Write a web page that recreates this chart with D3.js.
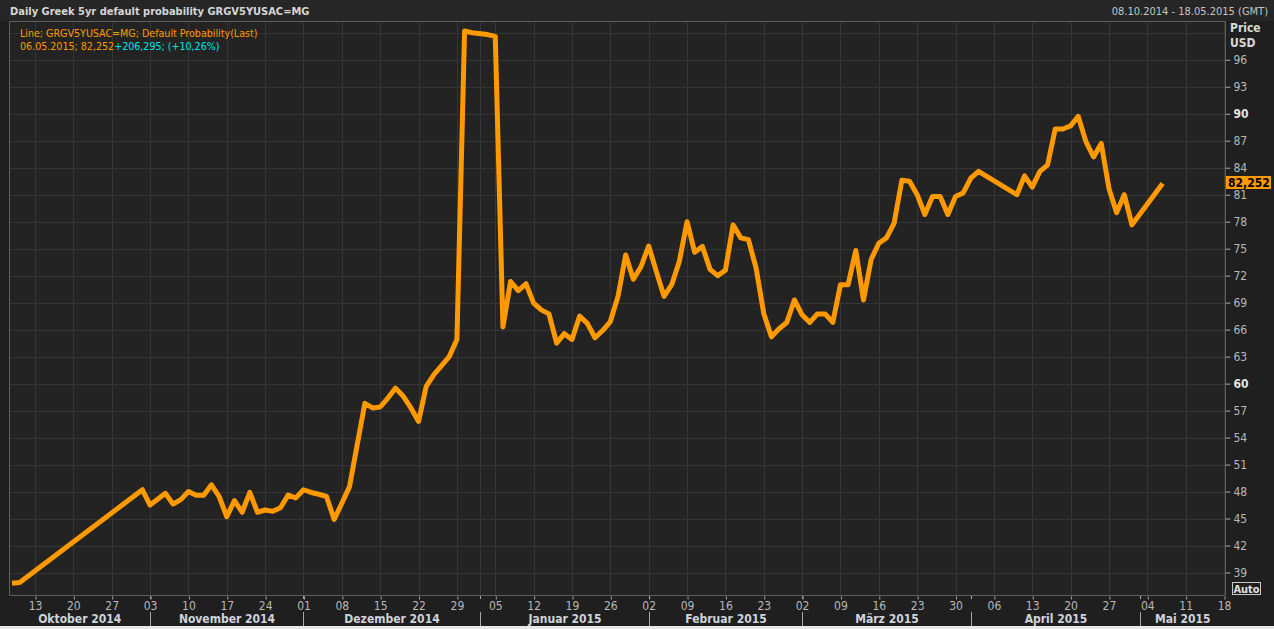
<!DOCTYPE html>
<html>
<head>
<meta charset="utf-8">
<script src="https://cdn.jsdelivr.net/npm/d3@7"></script>
<style>
  body { margin: 0; background: #1f1f1f; }
  svg { display: block; }
  text { font-family: "DejaVu Sans Condensed", "DejaVu Sans", sans-serif; }
</style>
</head>
<body>
<div id="chart"></div>
<script>
// Chart values
const dates = [
  "2014-10-08","2014-10-09","2014-10-31","2014-11-03","2014-11-05","2014-11-06","2014-11-07",
  "2014-11-10","2014-11-11","2014-11-12","2014-11-13","2014-11-14","2014-11-17","2014-11-18",
  "2014-11-19","2014-11-20","2014-11-21","2014-11-24","2014-11-25","2014-11-26","2014-11-27",
  "2014-11-28","2014-12-01","2014-12-02","2014-12-03","2014-12-04","2014-12-05","2014-12-08",
  "2014-12-09","2014-12-10","2014-12-11","2014-12-12","2014-12-15","2014-12-16","2014-12-17",
  "2014-12-18","2014-12-19","2014-12-22","2014-12-23","2014-12-24","2014-12-26","2014-12-29",
  "2014-12-30","2014-12-31","2015-01-02","2015-01-05","2015-01-06","2015-01-07","2015-01-08",
  "2015-01-09","2015-01-12","2015-01-13","2015-01-14","2015-01-15","2015-01-16","2015-01-19",
  "2015-01-20","2015-01-21","2015-01-22","2015-01-23","2015-01-26","2015-01-27","2015-01-28",
  "2015-01-29","2015-01-30","2015-02-02","2015-02-03","2015-02-04","2015-02-05","2015-02-06",
  "2015-02-09","2015-02-10","2015-02-11","2015-02-12","2015-02-13","2015-02-16","2015-02-17",
  "2015-02-18","2015-02-19","2015-02-20","2015-02-23","2015-02-24","2015-02-25","2015-02-26",
  "2015-02-27","2015-03-02","2015-03-03","2015-03-04","2015-03-05","2015-03-06","2015-03-09",
  "2015-03-10","2015-03-11","2015-03-12","2015-03-13","2015-03-16","2015-03-17","2015-03-18",
  "2015-03-19","2015-03-20","2015-03-23","2015-03-24","2015-03-25","2015-03-26","2015-03-27",
  "2015-03-30","2015-03-31","2015-04-01","2015-04-02","2015-04-09","2015-04-10","2015-04-13",
  "2015-04-14","2015-04-15","2015-04-16","2015-04-17","2015-04-20","2015-04-21","2015-04-22",
  "2015-04-23","2015-04-24","2015-04-27","2015-04-28","2015-04-29","2015-04-30","2015-05-06"
];
const values = [
  37.8, 37.9, 48.2, 46.5, 47.8, 46.6, 47.1,
  48.0, 47.6, 47.6, 48.75, 47.45, 45.2, 47.0,
  45.7, 47.9, 45.7, 45.95, 45.8, 46.2, 47.6,
  47.3, 48.2, 47.9, 47.7, 47.45, 44.9, 46.7,
  48.55, 53.2, 57.8, 57.3, 57.4, 58.4, 59.5,
  58.6, 57.3, 55.8, 59.7, 61.0, 63.0, 64.9,
  99.2, 99.0, 98.8, 98.6, 66.3, 71.35, 70.35,
  71.1, 68.95, 68.2, 67.75, 64.5, 65.55, 64.9,
  67.5, 66.7, 65.1, 65.9, 66.9, 69.7, 74.3,
  71.6, 73.0, 75.3, 72.45, 69.7, 71.0, 73.6,
  78.0, 74.6, 75.25, 72.7, 72.0, 72.6, 77.65,
  76.2, 76.0, 72.85, 67.8, 65.2, 66.1, 66.8,
  69.3, 67.65, 66.8, 67.75, 67.75, 66.8, 71.0,
  71.0, 74.8, 69.3, 73.8, 75.6, 76.2, 77.85,
  82.6, 82.5, 81.0, 78.8, 80.8, 80.8, 78.8,
  80.8, 81.2, 82.85, 83.6, 81.0, 83.1, 81.85,
  83.6, 84.3, 88.3, 88.3, 88.65, 89.7, 86.9,
  85.2, 86.7, 81.7, 79.0, 81.0, 77.65, 82.252
];
const yTickValues = [39, 42, 45, 48, 51, 54, 57, 60, 63, 66, 69, 72, 75, 78, 81, 84, 87, 90, 93, 96];
const yGridValues = [39, 42, 45, 48, 51, 54, 57, 60, 63, 66, 69, 72, 75, 78, 81, 84, 87, 90, 93, 96, 99];
const yBoldTicks = [60, 90];
const monthLabels = ["Oktober 2014", "November 2014", "Dezember 2014", "Januar 2015",
                     "Februar 2015", "März 2015", "April 2015", "Mai 2015"];
const lastValue = 82.252;

const width = 1274;
const height = 629;
const plot = {left: 9, right: 1225, top: 21, bottom: 595};

const fmtKey = d3.timeFormat("%Y-%m-%d");
const parse = d3.timeParse("%Y-%m-%d");

// weekday axis (weekends skipped, like the source chart)
const allDays = d3.timeDay.range(parse("2014-10-08"), parse("2015-05-19"))
  .filter(d => d.getDay() !== 0 && d.getDay() !== 6);
const dayKeys = allDays.map(fmtKey);
const mondays = dayKeys.filter((k, i) => allDays[i].getDay() === 1);

// first weekday of each month
const monthStarts = dayKeys.filter((k, i) => i > 0 && allDays[i].getMonth() !== allDays[i - 1].getMonth());

const xScale = d3.scalePoint().domain(dayKeys).range([12, 1224]);
const yScale = d3.scaleLinear().domain([36.5, 100.2]).range([plot.bottom, 22]);

const svg = d3.select("#chart").append("svg")
  .attr("width", width)
  .attr("height", height);

// backgrounds
svg.append("rect").attr("width", width).attr("height", height).attr("fill", "#1f1f1f");
svg.append("rect").attr("width", width).attr("height", plot.top).attr("fill", "#262626");
svg.append("rect")
  .attr("x", plot.left).attr("y", plot.top)
  .attr("width", plot.right - plot.left).attr("height", plot.bottom - plot.top)
  .attr("fill", "#222322");

// grid
const grid = svg.append("g").attr("stroke", "#353535").attr("stroke-width", 1);
grid.selectAll(".hg").data(yGridValues).enter().append("line")
  .attr("x1", plot.left).attr("x2", plot.right)
  .attr("y1", d => Math.round(yScale(d)) + 0.5).attr("y2", d => Math.round(yScale(d)) + 0.5);
const vGrid = mondays.concat(["2015-01-01"]);
grid.selectAll(".vg").data(vGrid).enter().append("line")
  .attr("x1", d => Math.round(xScale(d)) + 0.5).attr("x2", d => Math.round(xScale(d)) + 0.5)
  .attr("y1", plot.top).attr("y2", plot.bottom);

// frame
svg.append("path")
  .attr("d", `M${plot.left + 0.5},${plot.bottom + 0.5}V${plot.top + 0.5}H${plot.right + 0.5}V${plot.bottom + 0.5}Z`)
  .attr("fill", "none").attr("stroke", "#5e5e5e");

// line
const line = d3.line()
  .x((d, i) => xScale(dates[i]))
  .y(d => yScale(d));
svg.append("path")
  .datum(values)
  .attr("fill", "none")
  .attr("stroke", "#ff9900")
  .attr("stroke-width", 5)
  .attr("stroke-linejoin", "round")
  .attr("d", line);

// y axis on the right
const yAxis = svg.append("g")
  .attr("transform", `translate(${plot.right + 0.5},0)`)
  .call(d3.axisRight(yScale).tickValues(yTickValues).tickSize(5).tickPadding(3));
yAxis.select(".domain").remove();
yAxis.selectAll("line").attr("stroke", "#a8a8a8");
yAxis.selectAll("text")
  .attr("fill", d => yBoldTicks.includes(d) ? "#e4e4e4" : "#b8b8b8")
  .attr("font-weight", d => yBoldTicks.includes(d) ? "bold" : "normal")
  .attr("font-size", "12px");

svg.append("text").attr("x", 1230).attr("y", 32).text("Price")
  .attr("fill", "#d8d8d8").attr("font-weight", "bold").attr("font-size", "12px");
svg.append("text").attr("x", 1230).attr("y", 47).text("USD")
  .attr("fill", "#d8d8d8").attr("font-weight", "bold").attr("font-size", "12px");

// last value marker
const yLast = yScale(lastValue);
svg.append("rect")
  .attr("x", 1226).attr("y", Math.round(yLast) - 7)
  .attr("width", 45).attr("height", 13)
  .attr("fill", "#ff9900");
svg.append("text")
  .attr("x", 1228).attr("y", Math.round(yLast) + 4)
  .text("82,252")
  .attr("fill", "#000").attr("font-weight", "bold").attr("font-size", "12px");

// x axis
const xAxis = svg.append("g")
  .attr("transform", `translate(0,${plot.bottom + 0.5})`)
  .call(d3.axisBottom(xScale).tickValues(mondays).tickSize(3).tickPadding(3)
    .tickFormat(k => d3.timeFormat("%d")(parse(k))));
xAxis.select(".domain").remove();
xAxis.selectAll("line").attr("stroke", "#a8a8a8").attr("transform", "translate(0.5,1)");
xAxis.selectAll("text").attr("fill", "#b8b8b8").attr("font-size", "12px");

// month separators and labels
const sepX = monthStarts.map(k => Math.round(xScale(k)) + 0.5);
svg.selectAll(".msTick").data(sepX).enter().append("line")
  .attr("x1", d => d).attr("x2", d => d)
  .attr("y1", plot.bottom + 1).attr("y2", plot.bottom + 4)
  .attr("stroke", "#a8a8a8");
svg.selectAll(".msSep").data(sepX).enter().append("line")
  .attr("x1", d => d).attr("x2", d => d)
  .attr("y1", 612).attr("y2", 626)
  .attr("stroke", "#a8a8a8");
const bounds = [plot.left].concat(sepX, [plot.right]);
svg.selectAll(".mLabel").data(monthLabels).enter().append("text")
  .attr("x", (d, i) => (bounds[i] + bounds[i + 1]) / 2)
  .attr("y", 623)
  .attr("text-anchor", "middle")
  .attr("fill", "#cfd3da")
  .attr("font-weight", "bold")
  .attr("font-size", "12px")
  .text(d => d);

// Auto box
svg.append("rect").attr("x", 1232.5).attr("y", 582.5).attr("width", 28).attr("height", 12)
  .attr("fill", "none").attr("stroke", "#c8c8c8");
svg.append("text").attr("x", 1246.5).attr("y", 593).attr("text-anchor", "middle")
  .text("Auto").attr("fill", "#e0e0e0").attr("font-weight", "bold").attr("font-size", "11px");

// header
svg.append("text").attr("x", 10).attr("y", 15)
  .text("Daily Greek 5yr default probability GRGV5YUSAC=MG")
  .attr("fill", "#d6d6d6").attr("font-weight", "bold").attr("font-size", "11px");
svg.append("text").attr("x", 1268).attr("y", 15).attr("text-anchor", "end")
  .text("08.10.2014 - 18.05.2015 (GMT)")
  .attr("fill", "#c4c4c4").attr("font-size", "11px");

// legend
svg.append("text").attr("x", 20).attr("y", 37)
  .text("Line; GRGV5YUSAC=MG; Default Probability(Last)")
  .attr("fill", "#ff9900").attr("font-size", "10.6px");
const leg2 = svg.append("text").attr("x", 20).attr("y", 50).attr("font-size", "10.6px");
leg2.append("tspan").attr("fill", "#ff9900").text("06.05.2015; 82,252");
leg2.append("tspan").attr("fill", "#00e5e5").text("+206,295; (+10,26%)");

// light border at bottom of the capture
svg.append("rect").attr("x", 0).attr("y", 626).attr("width", width).attr("height", 3).attr("fill", "#e8e8e8");
</script>
</body>
</html>
